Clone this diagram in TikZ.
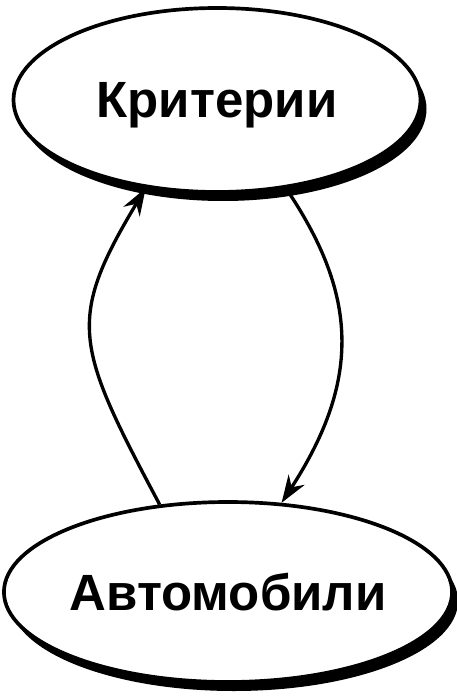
\documentclass[tikz,border=0pt]{standalone}
\usepackage{fontspec}
\setmainfont{Liberation Sans}
\usepackage{tikz}
\usetikzlibrary{shapes.geometric,shadows,arrows.meta}

\begin{document}
\begin{tikzpicture}[x=1cm,y=1cm,>={Stealth[length=0.55cm,width=0.38cm,inset=0.18cm]}]
  \useasboundingbox (0,0) rectangle (9.12,-13.92);
  \tikzstyle{oval}=[draw, ellipse, line width=2.1pt, fill=white, inner sep=0pt, text depth=0pt,
    font=\fontsize{29}{34}\selectfont\bfseries,
    drop shadow={shadow xshift=0.12cm, shadow yshift=-0.18cm, fill=black, opacity=1}]
  \tikzstyle{link}=[draw, line width=1.9pt, ->]
  \node[oval, minimum width=8.14cm, minimum height=3.68cm] (crit) at (4.34,-2.0) {Критерии};
  \node[oval, minimum width=8.54cm, minimum height=3.6cm] (autos) at (4.56,-11.84) {Автомобили};

  \draw[link] (autos.128) .. controls +(118:3.6) and +(239:3.1) .. (crit.231);
  \draw[link] (crit.308) .. controls +(304:2.5) and +(57:3.0) .. (autos.59);
\end{tikzpicture}
\end{document}
